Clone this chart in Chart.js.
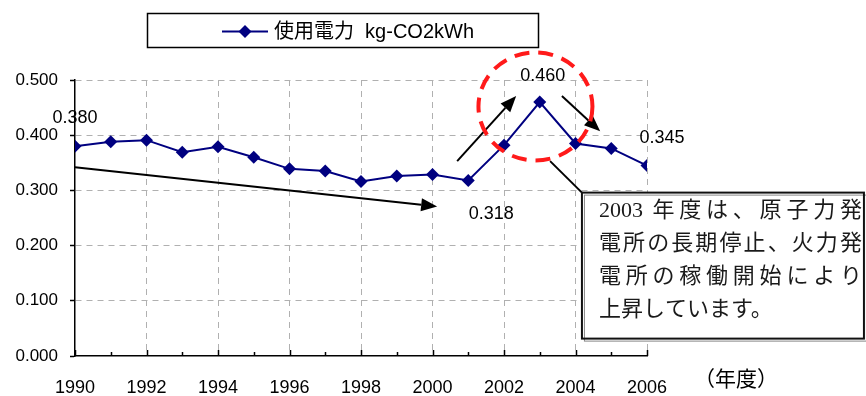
<!DOCTYPE html>
<html>
<head>
<meta charset="utf-8">
<script src="https://cdn.jsdelivr.net/npm/chart.js@4.4.1/dist/chart.umd.min.js"></script>
<style>
  html, body { margin: 0; padding: 0; background: #fff; }
  #wrap { width: 866px; height: 396px; position: relative; }
</style>
</head>
<body>
<div id="wrap"><canvas id="c" width="866" height="396"></canvas></div>
<script>
// CO2 emission factor of purchased electricity by fiscal year
const years = [1990, 1991, 1992, 1993, 1994, 1995, 1996, 1997, 1998, 1999, 2000, 2001, 2002, 2003, 2004, 2005, 2006];
const emission = [0.380, 0.388, 0.391, 0.369, 0.379, 0.360, 0.339, 0.335, 0.316, 0.326, 0.329, 0.318, 0.382, 0.460, 0.385, 0.376, 0.345];
const seriesName = '使用電力  kg-CO2kWh';
const yearUnit = '（年度）';
// years whose value is printed next to the point, with label offsets in px
const labelledYears = [1990, 2001, 2003, 2006];
const labelOffsets = [[0, -28], [23, 34], [3, -26], [15, -28]];
const noteLines = ['2003 年度は、原子力発', '電所の長期停止、火力発', '電所の稼働開始により', '上昇しています。'];

const NAVY = '#000080';
const LATIN = '"Liberation Sans", Arial, sans-serif';

function arrow(ctx, x1, y1, x2, y2) {
  const a = Math.atan2(y2 - y1, x2 - x1);
  const len = 16, hw = 6.5;
  const bx = x2 - Math.cos(a) * len, by = y2 - Math.sin(a) * len;
  ctx.beginPath();
  ctx.moveTo(x1, y1);
  ctx.lineTo(bx, by);
  ctx.stroke();
  ctx.beginPath();
  ctx.moveTo(x2, y2);
  ctx.lineTo(bx - Math.sin(a) * hw, by + Math.cos(a) * hw);
  ctx.lineTo(bx + Math.sin(a) * hw, by - Math.cos(a) * hw);
  ctx.closePath();
  ctx.fill();
}

function diamond(ctx, x, y, r) {
  ctx.beginPath();
  ctx.moveTo(x - r, y);
  ctx.lineTo(x, y - r);
  ctx.lineTo(x + r, y);
  ctx.lineTo(x, y + r);
  ctx.closePath();
  ctx.fill();
}

const decorations = {
  id: 'decorations',
  afterDraw(chart) {
    const ctx = chart.ctx;
    const xs = chart.scales.x, ys = chart.scales.y;
    const area = chart.chartArea;
    const px = v => xs.getPixelForValue(v);
    const py = v => ys.getPixelForValue(v);
    ctx.save();

    // inner tick marks on the year axis
    ctx.strokeStyle = '#000';
    ctx.lineWidth = 1.5;
    years.forEach(yr => {
      const x = Math.round(px(yr)) + 0.5;
      const h = yr % 2 === 0 ? 6 : 4;
      ctx.beginPath();
      ctx.moveTo(x, area.bottom);
      ctx.lineTo(x, area.bottom - h);
      ctx.stroke();
    });

    // value labels
    ctx.fillStyle = '#000';
    ctx.font = '18px ' + LATIN;
    ctx.textAlign = 'center';
    ctx.textBaseline = 'middle';
    labelledYears.forEach((yr, i) => {
      const idx = years.indexOf(yr);
      const [dx, dy] = labelOffsets[i];
      ctx.fillText(emission[idx].toFixed(3), px(yr) + dx, py(emission[idx]) + dy);
    });

    // unit label of the year axis
    ctx.font = '21px "Noto Sans CJK JP", sans-serif';
    ctx.fillText(yearUnit, 736, 378);

    // legend
    ctx.lineWidth = 1.5;
    ctx.strokeStyle = '#000';
    ctx.strokeRect(147.5, 13.5, 391, 34);
    ctx.strokeStyle = NAVY;
    ctx.lineWidth = 2;
    ctx.beginPath();
    ctx.moveTo(222, 31.5);
    ctx.lineTo(268, 31.5);
    ctx.stroke();
    ctx.fillStyle = NAVY;
    diamond(ctx, 245, 31.5, 6.5);
    ctx.fillStyle = '#000';
    ctx.textAlign = 'left';
    ctx.font = '20px "Liberation Sans", "Noto Sans CJK JP", sans-serif';
    ctx.fillText(seriesName, 274, 32);

    // black trend arrows
    ctx.strokeStyle = '#000';
    ctx.fillStyle = '#000';
    ctx.lineWidth = 2;
    arrow(ctx, px(1990), py(0.342), px(2000.13), py(0.271));
    arrow(ctx, px(2000.69), py(0.353), px(2002.34), py(0.471));
    arrow(ctx, px(2003.62), py(0.471), px(2004.69), py(0.407));

    // red dashed ring around the 2003 peak
    ctx.strokeStyle = '#ff1a1a';
    ctx.lineWidth = 4;
    ctx.setLineDash([15, 9]);
    ctx.beginPath();
    ctx.ellipse(px(2002.88), py(0.452), 57, 54, 0, 0, Math.PI * 2);
    ctx.stroke();
    ctx.setLineDash([]);

    // callout pointer and note box
    const bx = px(2004.18), by = py(0.296);
    ctx.strokeStyle = '#000';
    ctx.lineWidth = 2;
    ctx.beginPath();
    ctx.moveTo(px(2003.29), py(0.353));
    ctx.lineTo(bx, by);
    ctx.stroke();
    const bw = 282, bh = 146;
    ctx.fillStyle = '#fff';
    ctx.fillRect(bx, by, bw, bh);
    ctx.strokeStyle = '#888';
    ctx.lineWidth = 1;
    ctx.strokeRect(bx + 2.5, by + 2.5, bw, bh);
    ctx.strokeStyle = '#111';
    ctx.lineWidth = 2;
    ctx.strokeRect(bx, by, bw, bh);

    // note text, each line spread to the same right edge
    ctx.fillStyle = '#1a1a1a';
    ctx.font = '22px "Liberation Serif", "Noto Sans CJK JP", serif';
    ctx.textBaseline = 'middle';
    const left = bx + 17, right = bx + 280;
    noteLines.forEach((line, i) => {
      const ty = by + 19 + i * 33;
      const prefix = (line.match(/^[\x00-\x7F]*/) || [''])[0];
      const rest = line.slice(prefix.length);
      ctx.letterSpacing = '0px';
      let x = left;
      if (prefix) {
        ctx.fillText(prefix, x, ty);
        x += ctx.measureText(prefix).width + 4;
      }
      if (i < 3) {
        const w = ctx.measureText(rest).width;
        const n = [...rest].length;
        ctx.letterSpacing = Math.max(0, (right - x - w) / (n - 1)).toFixed(2) + 'px';
      }
      ctx.fillText(rest, x, ty);
    });
    ctx.letterSpacing = '0px';
    ctx.restore();
  }
};

new Chart(document.getElementById('c'), {
  type: 'line',
  data: {
    datasets: [{
      label: seriesName,
      data: years.map((yr, i) => ({ x: yr, y: emission[i] })),
      borderColor: NAVY,
      backgroundColor: NAVY,
      borderWidth: 2,
      pointStyle: 'rectRot',
      pointRadius: 6.5,
      pointBorderWidth: 0,
      pointBackgroundColor: NAVY,
      tension: 0
    }]
  },
  options: {
    responsive: false,
    animation: false,
    devicePixelRatio: 1,
    layout: { padding: { left: 0, top: 80, right: 219, bottom: 0 } },
    plugins: { legend: { display: false }, tooltip: { enabled: false } },
    scales: {
      x: {
        type: 'linear',
        min: 1990,
        max: 2006,
        afterFit: s => { s.height = 40; },
        ticks: {
          stepSize: 2,
          padding: 21,
          color: '#000',
          font: { family: LATIN, size: 18 },
          callback: v => String(v),
          maxRotation: 0
        },
        grid: {
          drawTicks: false,
          color: c => (c.tick && c.tick.value === 1990) ? 'rgba(0,0,0,0)' : '#b0b0b0',
          lineWidth: 1
        },
        border: { display: true, color: '#000', width: 1.5, dash: [6, 5] }
      },
      y: {
        min: 0,
        max: 0.5,
        afterFit: s => { s.width = 75; },
        ticks: {
          stepSize: 0.1,
          padding: 12,
          color: '#000',
          font: { family: LATIN, size: 17 },
          callback: v => v.toFixed(3)
        },
        grid: {
          drawTicks: true,
          tickLength: 5,
          tickColor: '#000',
          tickWidth: 1.5,
          color: c => (c.tick && c.tick.value === 0) ? 'rgba(0,0,0,0)' : '#b0b0b0',
          lineWidth: 1
        },
        border: { display: true, color: '#000', width: 1.5, dash: [6, 5] }
      }
    }
  },
  plugins: [decorations]
});
</script>
</body>
</html>
